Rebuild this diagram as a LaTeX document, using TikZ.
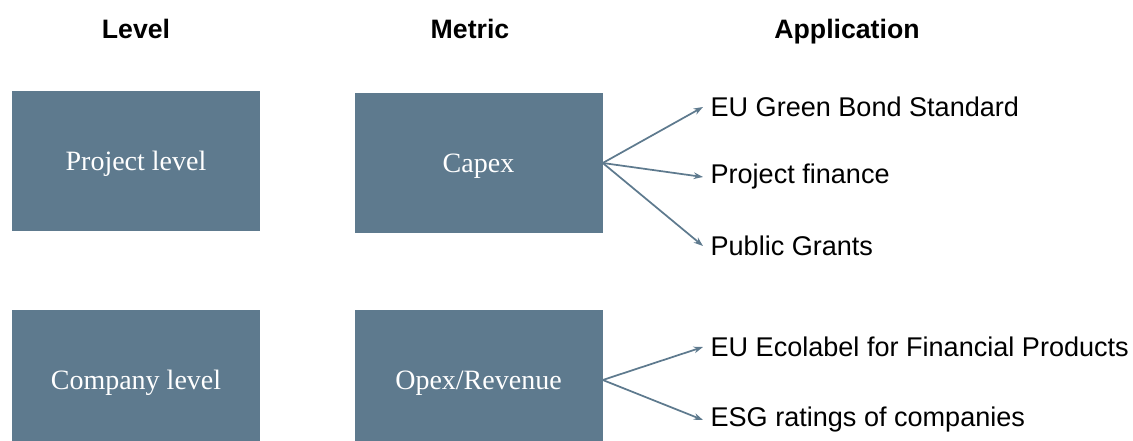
\documentclass[tikz,border=0pt]{standalone}
\usepackage{fontspec}
\setmainfont{Liberation Serif}
\newfontfamily\arialfont{Liberation Sans}
\usetikzlibrary{arrows.meta}
\definecolor{slate}{HTML}{5E7A8E}

\begin{document}
\begin{tikzpicture}[x=0.75pt,y=-0.75pt]
\clip (0,0) rectangle (1133,441);
\foreach \x/\y/\n/\t in {136/39/hlevel/Level, 470/39/hmetric/Metric, 847/39/happ/Application}
  \node[inner sep=0mm,anchor=base,font=\arialfont\bfseries\fontsize{20}{24}\selectfont] (\n) at (\x,\y) {\t};
\foreach \x/\y/\n/\t in {136/161/project/Project level, 478.5/163/capex/Capex, 136/380/company/Company level, 478.5/380/opex/{Opex/Revenue}}
  \node[fill=slate,text=white,minimum width=186pt,minimum height=105pt,inner sep=0mm,text depth=0pt,font=\fontsize{21}{25}\selectfont] (\n) at (\x,\y) {\t};
\foreach \y/\n/\t in {107/eugbs/EU Green Bond Standard, 177/pfin/Project finance, 246/grants/Public Grants, 347/ecolabel/EU Ecolabel for Financial Products, 420/esg/ESG ratings of companies}
  \node[anchor=west,inner ysep=0mm,inner xsep=5.5pt,font=\arialfont\fontsize{20.3}{24}\selectfont] (\n) at (703,\y) {\t};
\foreach \s/\t in {capex/eugbs, capex/pfin, capex/grants, opex/ecolabel, opex/esg}
  \draw[-{Stealth[length=7pt,width=5pt]},slate,line width=1.3pt] (\s.east) -- (\t.west);

\end{tikzpicture}
\end{document}
